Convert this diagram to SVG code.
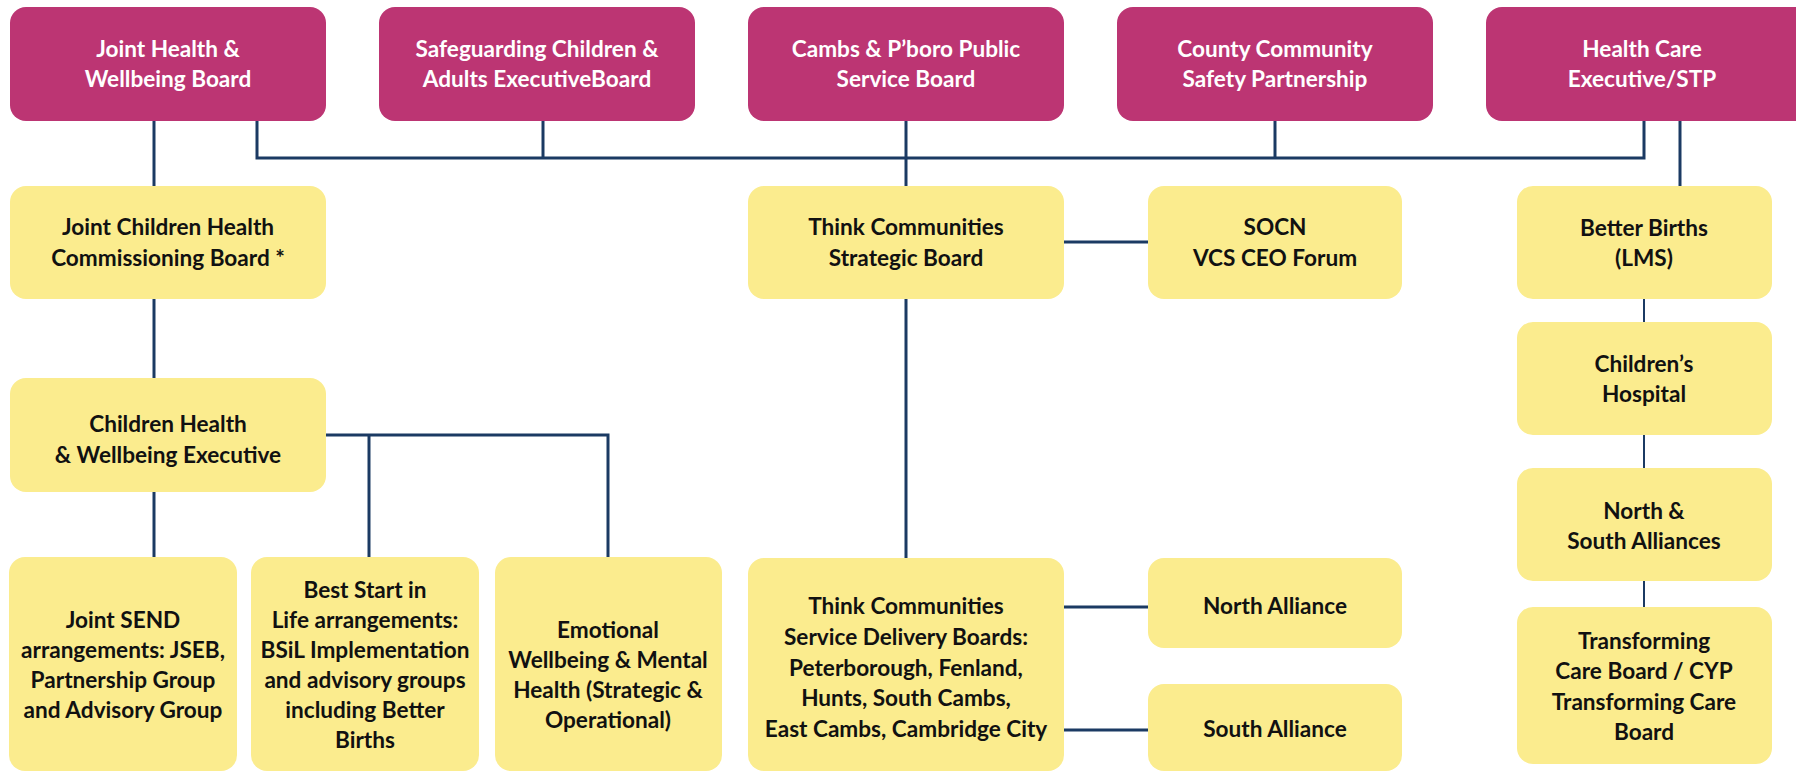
<svg xmlns="http://www.w3.org/2000/svg" width="1796" height="773" viewBox="0 0 1796 773">
<style>
.top{fill:#BC3573}
.yel{fill:#FBEC8E}
.tw{font-family:Lato,"Liberation Sans",sans-serif;font-weight:700;font-size:22.6px;fill:#ffffff;text-anchor:middle}
.tb{font-family:Lato,"Liberation Sans",sans-serif;font-weight:700;font-size:22.6px;fill:#111111;text-anchor:middle}
.ln{stroke:#1B3A63;stroke-width:3;fill:none}
.ln2{stroke:#1B3A63;stroke-width:2;fill:none}
</style>
<rect width="1796" height="773" fill="#ffffff"/>
<g id="connectors">
<path class="ln" d="M154 121V186"/>
<path class="ln" d="M257 121V158H1644V121"/>
<path class="ln" d="M543 121V158"/>
<path class="ln" d="M1275 121V158"/>
<path class="ln" d="M906 121V186"/>
<path class="ln" d="M1680 121V186"/>
<path class="ln" d="M154 299V378"/>
<path class="ln" d="M154 492V557"/>
<path class="ln" d="M326 435H608V557"/>
<path class="ln" d="M369 435V557"/>
<path class="ln" d="M1064 242H1148"/>
<path class="ln" d="M906 299V558"/>
<path class="ln" d="M1064 607H1148"/>
<path class="ln" d="M1064 730H1148"/>
<path class="ln2" d="M1644 299V322"/>
<path class="ln2" d="M1644 435V468"/>
<path class="ln2" d="M1644 581V607"/>
</g>
<g id="n-jhwb"><rect class="top" x="10" y="7" width="316" height="114" rx="16"/><text class="tw" x="168" y="57">Joint Health &amp;</text><text class="tw" x="168" y="87">Wellbeing Board</text></g>
<g id="n-scaeb"><rect class="top" x="379" y="7" width="316" height="114" rx="16"/><text class="tw" x="537" y="57">Safeguarding Children &amp;</text><text class="tw" x="537" y="87">Adults ExecutiveBoard</text></g>
<g id="n-cppsb"><rect class="top" x="748" y="7" width="316" height="114" rx="16"/><text class="tw" x="906" y="57">Cambs &amp; P’boro Public</text><text class="tw" x="906" y="87">Service Board</text></g>
<g id="n-ccsp"><rect class="top" x="1117" y="7" width="316" height="114" rx="16"/><text class="tw" x="1275" y="57">County Community</text><text class="tw" x="1275" y="87">Safety Partnership</text></g>
<g id="n-hce"><rect class="top" x="1486" y="7" width="326" height="114" rx="16"/><text class="tw" x="1642" y="57">Health Care</text><text class="tw" x="1642" y="87">Executive/STP</text></g>
<g id="n-jchcb"><rect class="yel" x="10" y="186" width="316" height="113" rx="16"/><text class="tb" x="168" y="235">Joint Children Health</text><text class="tb" x="168" y="266">Commissioning Board *</text></g>
<g id="n-chwe"><rect class="yel" x="10" y="378" width="316" height="114" rx="16"/><text class="tb" x="168" y="432">Children Health</text><text class="tb" x="168" y="463">&amp; Wellbeing Executive</text></g>
<g id="n-send"><rect class="yel" x="9" y="557" width="228" height="214" rx="16"/><text class="tb" x="123" y="628">Joint SEND</text><text class="tb" x="123" y="658">arrangements: JSEB,</text><text class="tb" x="123" y="688">Partnership Group</text><text class="tb" x="123" y="718">and Advisory Group</text></g>
<g id="n-bsil"><rect class="yel" x="251" y="557" width="228" height="214" rx="16"/><text class="tb" x="365" y="598">Best Start in</text><text class="tb" x="365" y="628">Life arrangements:</text><text class="tb" x="365" y="658">BSiL Implementation</text><text class="tb" x="365" y="688">and advisory groups</text><text class="tb" x="365" y="718">including Better</text><text class="tb" x="365" y="748">Births</text></g>
<g id="n-ewmh"><rect class="yel" x="495" y="557" width="227" height="214" rx="16"/><text class="tb" x="608" y="638">Emotional</text><text class="tb" x="608" y="668">Wellbeing &amp; Mental</text><text class="tb" x="608" y="698">Health (Strategic &amp;</text><text class="tb" x="608" y="728">Operational)</text></g>
<g id="n-tcsb"><rect class="yel" x="748" y="186" width="316" height="113" rx="16"/><text class="tb" x="906" y="235">Think Communities</text><text class="tb" x="906" y="266">Strategic Board</text></g>
<g id="n-socn"><rect class="yel" x="1148" y="186" width="254" height="113" rx="16"/><text class="tb" x="1275" y="235">SOCN</text><text class="tb" x="1275" y="266">VCS CEO Forum</text></g>
<g id="n-tcsdb"><rect class="yel" x="748" y="558" width="316" height="213" rx="16"/><text class="tb" x="906" y="614">Think Communities</text><text class="tb" x="906" y="645">Service Delivery Boards:</text><text class="tb" x="906" y="676">Peterborough, Fenland,</text><text class="tb" x="906" y="706">Hunts, South Cambs,</text><text class="tb" x="906" y="737">East Cambs, Cambridge City</text></g>
<g id="n-north"><rect class="yel" x="1148" y="558" width="254" height="90" rx="16"/><text class="tb" x="1275" y="614">North Alliance</text></g>
<g id="n-south"><rect class="yel" x="1148" y="684" width="254" height="87" rx="16"/><text class="tb" x="1275" y="737">South Alliance</text></g>
<g id="n-bb"><rect class="yel" x="1517" y="186" width="255" height="113" rx="16"/><text class="tb" x="1644" y="236">Better Births</text><text class="tb" x="1644" y="266">(LMS)</text></g>
<g id="n-ch"><rect class="yel" x="1517" y="322" width="255" height="113" rx="16"/><text class="tb" x="1644" y="372">Children’s</text><text class="tb" x="1644" y="402">Hospital</text></g>
<g id="n-nsa"><rect class="yel" x="1517" y="468" width="255" height="113" rx="16"/><text class="tb" x="1644" y="519">North &amp;</text><text class="tb" x="1644" y="549">South Alliances</text></g>
<g id="n-tcb"><rect class="yel" x="1517" y="607" width="255" height="157" rx="16"/><text class="tb" x="1644" y="649">Transforming</text><text class="tb" x="1644" y="679">Care Board / CYP</text><text class="tb" x="1644" y="710">Transforming Care</text><text class="tb" x="1644" y="740">Board</text></g>
</svg>
